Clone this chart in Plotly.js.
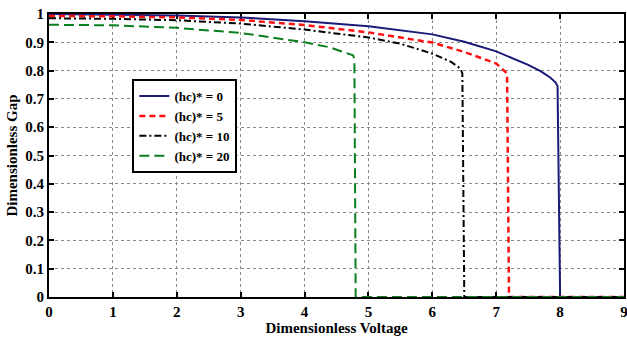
<!DOCTYPE html>
<html>
<head>
<meta charset="utf-8">
<script src="https://cdn.plot.ly/plotly-3.0.1.min.js"></script>
<style>html,body{margin:0;padding:0;background:#fff;}#chart{width:627px;height:337px;}</style>
</head>
<body>
<div id="chart"></div>
<script>
// Series
const names = ["(hc)* = 0", "(hc)* = 5", "(hc)* = 10", "(hc)* = 20"];

const x_hc0 = [0, 1, 2, 3, 4, 5, 6, 6.5, 7, 7.5, 7.7, 7.85, 7.93, 7.96, 8.0, 9];
const y_hc0 = [1.0, 0.998, 0.995, 0.988, 0.974, 0.957, 0.928, 0.902, 0.868, 0.82, 0.797, 0.775, 0.758, 0.745, 0, 0];

const x_hc5 = [0, 1, 2, 3, 4, 5, 6, 6.5, 7, 7.09, 7.17, 7.2, 9];
const y_hc5 = [0.993, 0.992, 0.988, 0.979, 0.961, 0.935, 0.899, 0.866, 0.825, 0.807, 0.79, 0, 0];

const x_hc10 = [0, 1, 2, 3, 4, 5, 5.5, 6, 6.3, 6.44, 6.47, 6.5, 9];
const y_hc10 = [0.985, 0.983, 0.978, 0.966, 0.945, 0.917, 0.895, 0.86, 0.83, 0.807, 0.79, 0, 0];

const x_hc20 = [0, 1, 2, 3, 4, 4.4, 4.76, 4.78, 4.8, 9];
const y_hc20 = [0.962, 0.96, 0.951, 0.933, 0.9, 0.882, 0.854, 0.84, 0, 0];

const xTicks = [0, 1, 2, 3, 4, 5, 6, 7, 8, 9];
const yTicks = [0, 0.1, 0.2, 0.3, 0.4, 0.5, 0.6, 0.7, 0.8, 0.9, 1];

const serif = "Liberation Serif, Times New Roman, serif";

const traces = [
  {x: x_hc0, y: y_hc0, name: names[0], mode: "lines", line: {color: "#1a1a78", width: 2}},
  {x: x_hc5, y: y_hc5, name: names[1], mode: "lines", line: {color: "#ff1010", width: 2.5, dash: "6px,4px"}},
  {x: x_hc10, y: y_hc10, name: names[2], mode: "lines", line: {color: "#000000", width: 2, dash: "7px,3px,2px,3px"}},
  {x: x_hc20, y: y_hc20, name: names[3], mode: "lines", line: {color: "#0a7f1e", width: 2, dash: "10px,5px"}}
];

const axisCommon = {
  showline: true, linewidth: 2, linecolor: "#000", mirror: "ticks",
  ticks: "inside", ticklen: 5, tickwidth: 2, tickcolor: "#000",
  showgrid: true, gridcolor: "#8a8a8a", griddash: "dot", gridwidth: 1,
  zeroline: false, layer: "below traces", ticklabeloverflow: "allow",
  tickfont: {family: serif, size: 15, color: "#000", weight: "bold"}
};

const layout = {
  width: 627, height: 337,
  margin: {l: 49, r: 3, t: 14, b: 40},
  paper_bgcolor: "#fff", plot_bgcolor: "#fff",
  showlegend: true,
  legend: {
    x: 0.145, y: 0.77, xanchor: "left", yanchor: "top",
    bgcolor: "#fff", bordercolor: "#000", borderwidth: 2,
    font: {family: serif, size: 13, color: "#000", weight: "bold"},
    tracegroupgap: 0
  },
  xaxis: Object.assign({}, axisCommon, {
    range: [0, 9], tickvals: xTicks, ticktext: xTicks.map(String),
    title: {text: "Dimensionless Voltage", font: {family: serif, size: 15, color: "#000", weight: "bold"}, standoff: 1}
  }),
  yaxis: Object.assign({}, axisCommon, {
    range: [0, 1], tickvals: yTicks, ticktext: yTicks.map(String),
    title: {text: "Dimensionless Gap", font: {family: serif, size: 15, color: "#000", weight: "bold"}, standoff: 4}
  })
};

Plotly.newPlot("chart", traces, layout, {displayModeBar: false, staticPlot: true});
</script>
</body>
</html>
